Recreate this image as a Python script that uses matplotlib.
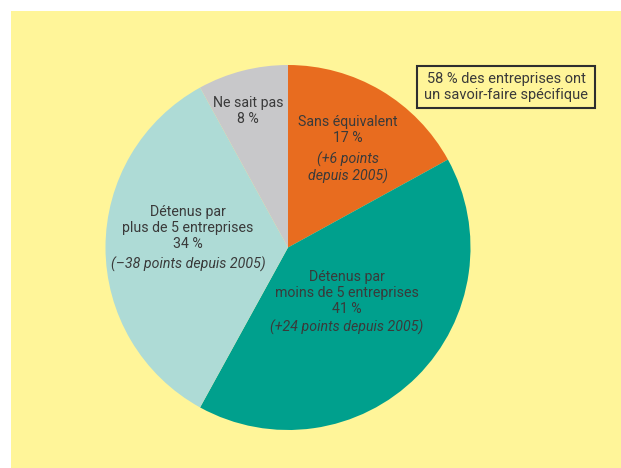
import matplotlib.pyplot as plt
from matplotlib.patches import Rectangle

plt.rcParams['font.family'] = ['Roboto', 'DejaVu Sans']

# shares of the know-how, in percent, clockwise from 12 o'clock
labels = ['Sans équivalent', 'Détenus par\nmoins de 5 entreprises',
          'Détenus par\nplus de 5 entreprises', 'Ne sait pas']
shares = [17, 41, 34, 8]
changes = ['(+6 points\ndepuis 2005)', '(+24 points depuis 2005)',
           '(–38 points depuis 2005)', None]
colors = ['#e86c1f', '#00a08d', '#aedbd6', '#c8c8ca']
note = '58 % des entreprises ont\nun savoir-faire spécifique'

W, H = 621, 468
txt_color = '#3a3a3a'

fig = plt.figure(figsize=(W / 100, H / 100), dpi=100)
fig.patch.set_facecolor('white')
fig.patches.append(Rectangle((11 / W, 0), 1 - 11 / W, 1 - 11 / H,
                             transform=fig.transFigure, facecolor='#fff599',
                             edgecolor='none', zorder=-1))

# pie centred at (288, 247.5) px, radius 182.5 px
cx, cy, r = 288, 247.5, 182.5
ax = fig.add_axes([(cx - r) / W, 1 - (cy + r) / H, 2 * r / W, 2 * r / H])
ax.set_zorder(1)
ax.pie(shares, colors=colors, startangle=90, counterclock=False, radius=1,
       wedgeprops=dict(linewidth=0))
ax.set_xlim(-1, 1)
ax.set_ylim(-1, 1)
ax.set_aspect('auto')
ax.axis('off')


def px(x, y):
    return x / W, 1 - y / H


# label anchors (px): top of name block, top of change block
spots = [(348, 115, 152), (347, 270, 320), (188, 205, 257), (248, 96, None)]
for lab, val, chg, (x, y1, y2) in zip(labels, shares, changes, spots):
    fig.text(*px(x, y1), f'{lab}\n{val} %', ha='center', va='top',
             fontsize=10.2, color=txt_color, linespacing=1.2, zorder=3)
    if chg:
        fig.text(*px(x, y2), chg, ha='center', va='top', fontsize=10.2,
                 style='italic', color=txt_color, linespacing=1.1, zorder=3)

fig.text(*px(506, 87), note, ha='center', va='center', fontsize=10.5,
         color=txt_color, linespacing=1.1, zorder=3,
         bbox=dict(boxstyle='square,pad=0.45', facecolor='none',
                   edgecolor='#2e2e2e', linewidth=1.5))

fig.savefig('out.png', dpi=100)
